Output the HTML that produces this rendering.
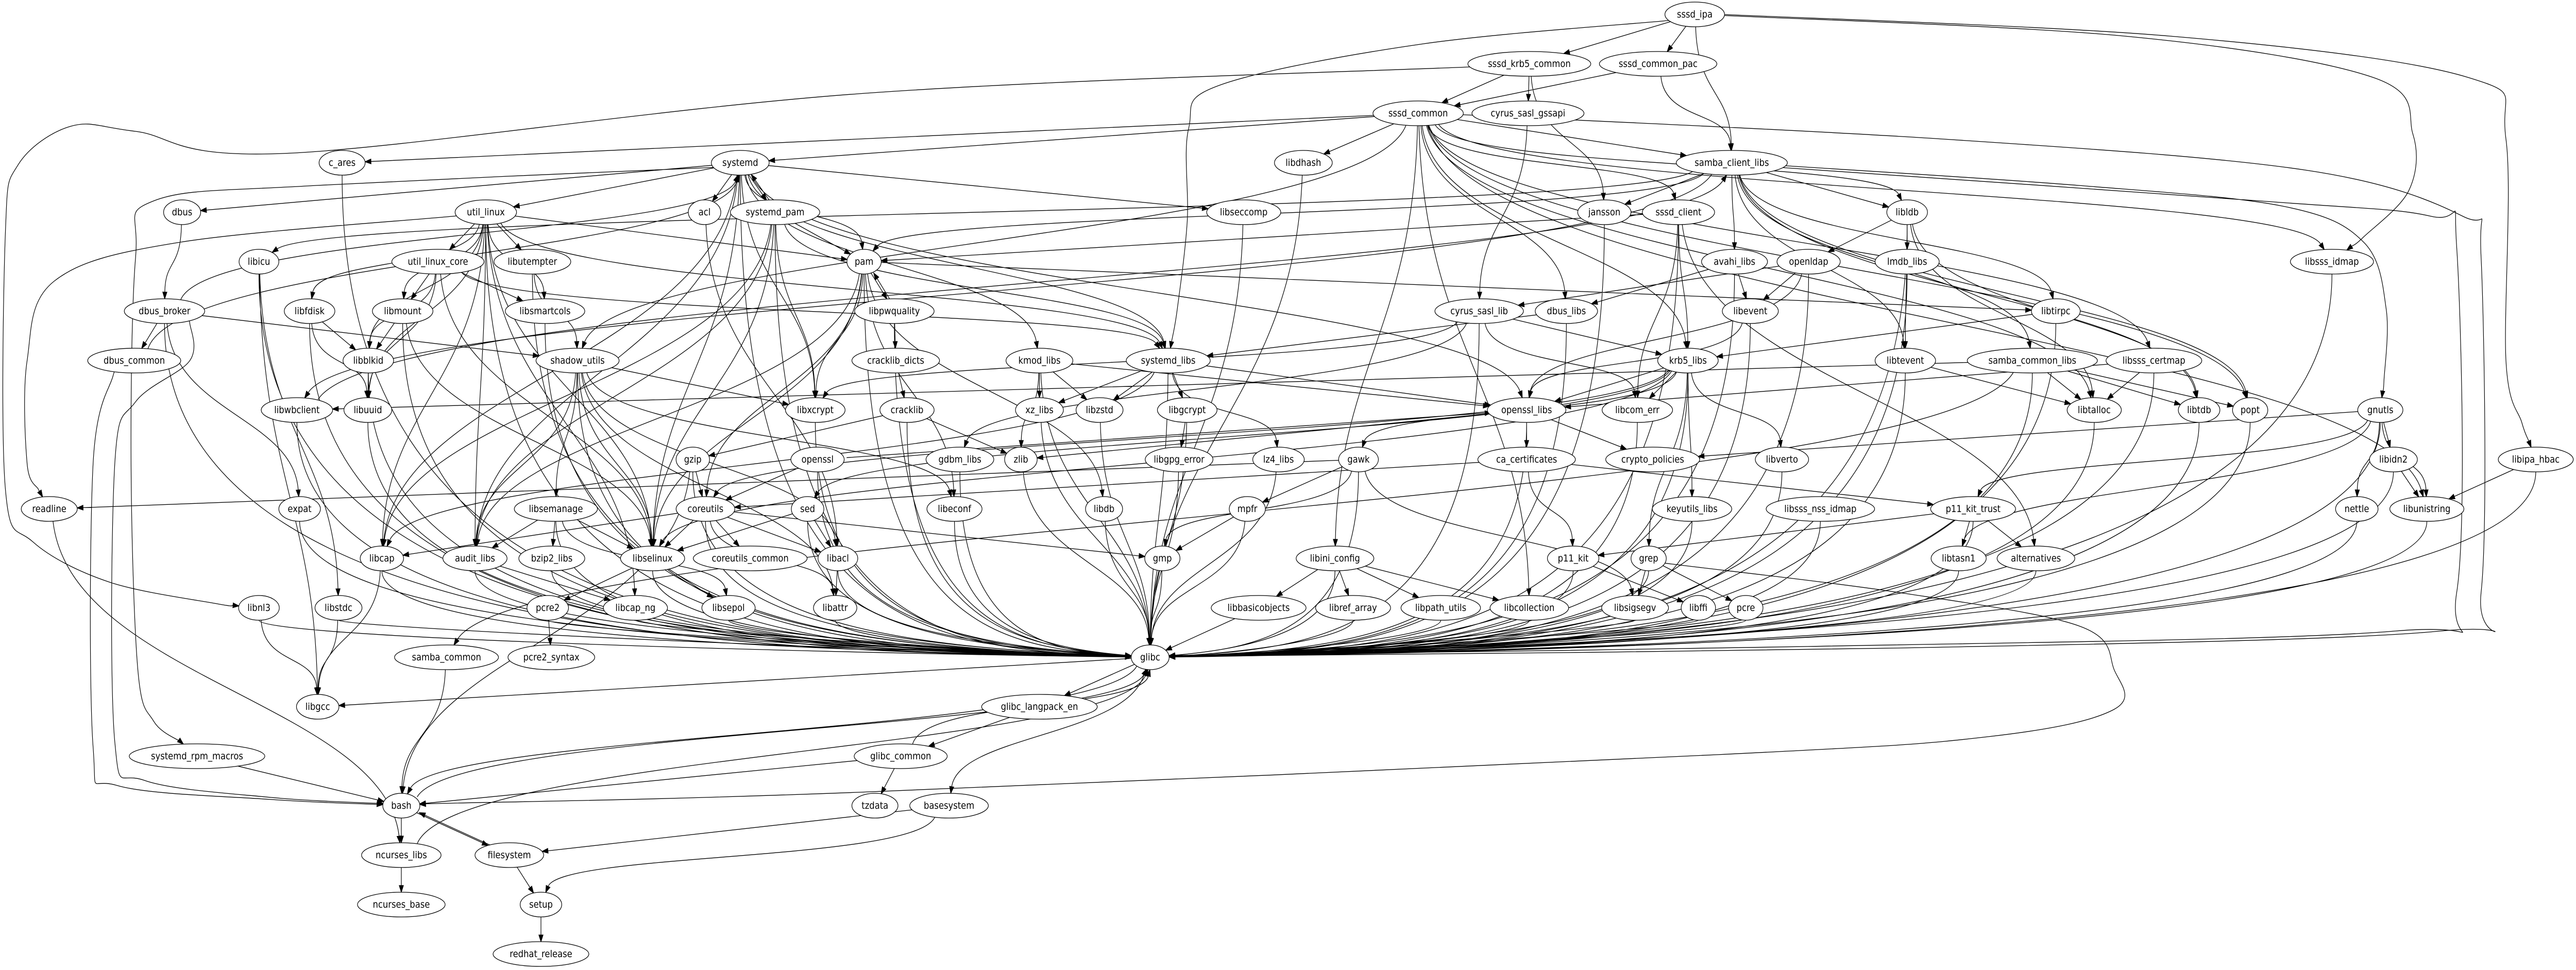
<!DOCTYPE html>
<html><head><meta charset="utf-8">
<style>
html,body{margin:0;padding:0;background:#fff;overflow:hidden;}
svg{display:block;width:100vw;height:1883px}
text{font-family:"DejaVu Sans","Liberation Sans",sans-serif;font-size:18.67px;text-anchor:middle;fill:#000}
ellipse{fill:#fff;stroke:#000;stroke-width:1.33}
</style></head><body>
<svg id="g" xmlns="http://www.w3.org/2000/svg" viewBox="0 0 5700 1883" preserveAspectRatio="none">
<rect width="5700" height="1883" fill="#fff"/>
<path id="ed" fill="none" stroke="#000" stroke-width="1.33" d=""/>
<path id="ar" fill="#000" stroke="#000" stroke-width="1.33" d=""/>
<g id="nodes">
<g id="n_sssd_ipa"><ellipse cx="3750" cy="28" rx="66" ry="24"/><text x="3750" y="34">sssd_ipa</text></g>
<g id="n_sssd_krb5_common"><ellipse cx="3384" cy="124" rx="136" ry="24"/><text x="3384" y="130">sssd_krb5_common</text></g>
<g id="n_sssd_common_pac"><ellipse cx="3669" cy="124" rx="130" ry="24"/><text x="3669" y="130">sssd_common_pac</text></g>
<g id="n_sssd_common"><ellipse cx="3138" cy="220" rx="100" ry="24"/><text x="3138" y="226">sssd_common</text></g>
<g id="n_cyrus_sasl_gssapi"><ellipse cx="3381" cy="220" rx="124" ry="24"/><text x="3381" y="226">cyrus_sasl_gssapi</text></g>
<g id="n_c_ares"><ellipse cx="757" cy="316" rx="51" ry="24"/><text x="757" y="322">c_ares</text></g>
<g id="n_systemd"><ellipse cx="1638" cy="316" rx="64" ry="24"/><text x="1638" y="322">systemd</text></g>
<g id="n_libdhash"><ellipse cx="2884" cy="316" rx="64" ry="24"/><text x="2884" y="322">libdhash</text></g>
<g id="n_samba_client_libs"><ellipse cx="3832" cy="316" rx="123" ry="24"/><text x="3832" y="322">samba_client_libs</text></g>
<g id="n_dbus"><ellipse cx="403" cy="412" rx="41" ry="24"/><text x="403" y="418">dbus</text></g>
<g id="n_util_linux"><ellipse cx="1075" cy="412" rx="68" ry="24"/><text x="1075" y="418">util_linux</text></g>
<g id="n_acl"><ellipse cx="1559" cy="412" rx="36" ry="24"/><text x="1559" y="418">acl</text></g>
<g id="n_systemd_pam"><ellipse cx="1715" cy="412" rx="99" ry="24"/><text x="1715" y="418">systemd_pam</text></g>
<g id="n_libseccomp"><ellipse cx="2752" cy="412" rx="82" ry="24"/><text x="2752" y="418">libseccomp</text></g>
<g id="n_jansson"><ellipse cx="3550" cy="412" rx="59" ry="24"/><text x="3550" y="418">jansson</text></g>
<g id="n_sssd_client"><ellipse cx="3714" cy="412" rx="80" ry="24"/><text x="3714" y="418">sssd_client</text></g>
<g id="n_libldb"><ellipse cx="4220" cy="412" rx="45" ry="24"/><text x="4220" y="418">libldb</text></g>
<g id="n_libicu"><ellipse cx="573" cy="508" rx="44" ry="24"/><text x="573" y="514">libicu</text></g>
<g id="n_util_linux_core"><ellipse cx="969" cy="508" rx="102" ry="24"/><text x="969" y="514">util_linux_core</text></g>
<g id="n_libutempter"><ellipse cx="1178" cy="508" rx="85" ry="24"/><text x="1178" y="514">libutempter</text></g>
<g id="n_pam"><ellipse cx="1912" cy="508" rx="38" ry="24"/><text x="1912" y="514">pam</text></g>
<g id="n_avahi_libs"><ellipse cx="3838" cy="508" rx="73" ry="24"/><text x="3838" y="514">avahi_libs</text></g>
<g id="n_openldap"><ellipse cx="4002" cy="508" rx="70" ry="24"/><text x="4002" y="514">openldap</text></g>
<g id="n_lmdb_libs"><ellipse cx="4220" cy="508" rx="71" ry="24"/><text x="4220" y="514">lmdb_libs</text></g>
<g id="n_libsss_idmap"><ellipse cx="5160" cy="508" rx="92" ry="24"/><text x="5160" y="514">libsss_idmap</text></g>
<g id="n_dbus_broker"><ellipse cx="364" cy="604" rx="89" ry="24"/><text x="364" y="610">dbus_broker</text></g>
<g id="n_libfdisk"><ellipse cx="685" cy="604" rx="56" ry="24"/><text x="685" y="610">libfdisk</text></g>
<g id="n_libmount"><ellipse cx="891" cy="604" rx="67" ry="24"/><text x="891" y="610">libmount</text></g>
<g id="n_libsmartcols"><ellipse cx="1206" cy="604" rx="88" ry="24"/><text x="1206" y="610">libsmartcols</text></g>
<g id="n_libpwquality"><ellipse cx="1979" cy="604" rx="88" ry="24"/><text x="1979" y="610">libpwquality</text></g>
<g id="n_cyrus_sasl_lib"><ellipse cx="3273" cy="604" rx="98" ry="24"/><text x="3273" y="610">cyrus_sasl_lib</text></g>
<g id="n_dbus_libs"><ellipse cx="3466" cy="604" rx="69" ry="24"/><text x="3466" y="610">dbus_libs</text></g>
<g id="n_libevent"><ellipse cx="3873" cy="604" rx="62" ry="24"/><text x="3873" y="610">libevent</text></g>
<g id="n_libtirpc"><ellipse cx="4549" cy="604" rx="54" ry="24"/><text x="4549" y="610">libtirpc</text></g>
<g id="n_dbus_common"><ellipse cx="297" cy="700" rx="103" ry="24"/><text x="297" y="706">dbus_common</text></g>
<g id="n_libblkid"><ellipse cx="815" cy="700" rx="56" ry="24"/><text x="815" y="706">libblkid</text></g>
<g id="n_shadow_utils"><ellipse cx="1278" cy="700" rx="92" ry="24"/><text x="1278" y="706">shadow_utils</text></g>
<g id="n_cracklib_dicts"><ellipse cx="1982" cy="700" rx="97" ry="24"/><text x="1982" y="706">cracklib_dicts</text></g>
<g id="n_kmod_libs"><ellipse cx="2300" cy="700" rx="74" ry="24"/><text x="2300" y="706">kmod_libs</text></g>
<g id="n_systemd_libs"><ellipse cx="2585" cy="700" rx="93" ry="24"/><text x="2585" y="706">systemd_libs</text></g>
<g id="n_krb5_libs"><ellipse cx="3735" cy="700" rx="67" ry="24"/><text x="3735" y="706">krb5_libs</text></g>
<g id="n_libtevent"><ellipse cx="4216" cy="700" rx="67" ry="24"/><text x="4216" y="706">libtevent</text></g>
<g id="n_samba_common_libs"><ellipse cx="4497" cy="700" rx="144" ry="24"/><text x="4497" y="706">samba_common_libs</text></g>
<g id="n_libsss_certmap"><ellipse cx="4766" cy="700" rx="106" ry="24"/><text x="4766" y="706">libsss_certmap</text></g>
<g id="n_libwbclient"><ellipse cx="657" cy="796" rx="79" ry="24"/><text x="657" y="802">libwbclient</text></g>
<g id="n_libuuid"><ellipse cx="814" cy="796" rx="53" ry="24"/><text x="814" y="802">libuuid</text></g>
<g id="n_libxcrypt"><ellipse cx="1804" cy="796" rx="66" ry="24"/><text x="1804" y="802">libxcrypt</text></g>
<g id="n_cracklib"><ellipse cx="2007" cy="796" rx="60" ry="24"/><text x="2007" y="802">cracklib</text></g>
<g id="n_xz_libs"><ellipse cx="2300" cy="796" rx="53" ry="24"/><text x="2300" y="802">xz_libs</text></g>
<g id="n_libzstd"><ellipse cx="2433" cy="796" rx="52" ry="24"/><text x="2433" y="802">libzstd</text></g>
<g id="n_libgcrypt"><ellipse cx="2627" cy="796" rx="66" ry="24"/><text x="2627" y="802">libgcrypt</text></g>
<g id="n_openssl_libs"><ellipse cx="3378" cy="796" rx="87" ry="24"/><text x="3378" y="802">openssl_libs</text></g>
<g id="n_libcom_err"><ellipse cx="3623" cy="796" rx="78" ry="24"/><text x="3623" y="802">libcom_err</text></g>
<g id="n_libtalloc"><ellipse cx="4634" cy="796" rx="60" ry="24"/><text x="4634" y="802">libtalloc</text></g>
<g id="n_libtdb"><ellipse cx="4866" cy="796" rx="46" ry="24"/><text x="4866" y="802">libtdb</text></g>
<g id="n_popt"><ellipse cx="4979" cy="796" rx="39" ry="24"/><text x="4979" y="802">popt</text></g>
<g id="n_gnutls"><ellipse cx="5267" cy="796" rx="50" ry="24"/><text x="5267" y="802">gnutls</text></g>
<g id="n_gzip"><ellipse cx="1533" cy="892" rx="37" ry="24"/><text x="1533" y="898">gzip</text></g>
<g id="n_openssl"><ellipse cx="1809" cy="892" rx="59" ry="24"/><text x="1809" y="898">openssl</text></g>
<g id="n_gdbm_libs"><ellipse cx="2124" cy="892" rx="75" ry="24"/><text x="2124" y="898">gdbm_libs</text></g>
<g id="n_zlib"><ellipse cx="2259" cy="892" rx="36" ry="24"/><text x="2259" y="898">zlib</text></g>
<g id="n_libgpg_error"><ellipse cx="2609" cy="892" rx="75" ry="24"/><text x="2609" y="898">libgpg_error</text></g>
<g id="n_lz4_libs"><ellipse cx="2829" cy="892" rx="57" ry="24"/><text x="2829" y="898">lz4_libs</text></g>
<g id="n_gawk"><ellipse cx="3006" cy="892" rx="44" ry="24"/><text x="3006" y="898">gawk</text></g>
<g id="n_ca_certificates"><ellipse cx="3378" cy="892" rx="108" ry="24"/><text x="3378" y="898">ca_certificates</text></g>
<g id="n_crypto_policies"><ellipse cx="3657" cy="892" rx="104" ry="24"/><text x="3657" y="898">crypto_policies</text></g>
<g id="n_libverto"><ellipse cx="3943" cy="892" rx="59" ry="24"/><text x="3943" y="898">libverto</text></g>
<g id="n_libidn2"><ellipse cx="5296" cy="892" rx="53" ry="24"/><text x="5296" y="898">libidn2</text></g>
<g id="n_libipa_hbac"><ellipse cx="5611" cy="892" rx="83" ry="24"/><text x="5611" y="898">libipa_hbac</text></g>
<g id="n_readline"><ellipse cx="109" cy="988" rx="62" ry="24"/><text x="109" y="994">readline</text></g>
<g id="n_expat"><ellipse cx="663" cy="988" rx="46" ry="24"/><text x="663" y="994">expat</text></g>
<g id="n_libsemanage"><ellipse cx="1230" cy="988" rx="92" ry="24"/><text x="1230" y="994">libsemanage</text></g>
<g id="n_coreutils"><ellipse cx="1561" cy="988" rx="65" ry="24"/><text x="1561" y="994">coreutils</text></g>
<g id="n_sed"><ellipse cx="1787" cy="988" rx="36" ry="24"/><text x="1787" y="994">sed</text></g>
<g id="n_libeconf"><ellipse cx="2112" cy="988" rx="61" ry="24"/><text x="2112" y="994">libeconf</text></g>
<g id="n_libdb"><ellipse cx="2443" cy="988" rx="41" ry="24"/><text x="2443" y="994">libdb</text></g>
<g id="n_mpfr"><ellipse cx="2760" cy="988" rx="40" ry="24"/><text x="2760" y="994">mpfr</text></g>
<g id="n_keyutils_libs"><ellipse cx="3744" cy="988" rx="88" ry="24"/><text x="3744" y="994">keyutils_libs</text></g>
<g id="n_libsss_nss_idmap"><ellipse cx="4028" cy="988" rx="120" ry="24"/><text x="4028" y="994">libsss_nss_idmap</text></g>
<g id="n_p11_kit_trust"><ellipse cx="4366" cy="988" rx="94" ry="24"/><text x="4366" y="994">p11_kit_trust</text></g>
<g id="n_nettle"><ellipse cx="5215" cy="988" rx="47" ry="24"/><text x="5215" y="994">nettle</text></g>
<g id="n_libunistring"><ellipse cx="5370" cy="988" rx="82" ry="24"/><text x="5370" y="994">libunistring</text></g>
<g id="n_libcap"><ellipse cx="845" cy="1084" rx="48" ry="24"/><text x="845" y="1090">libcap</text></g>
<g id="n_audit_libs"><ellipse cx="1051" cy="1084" rx="71" ry="24"/><text x="1051" y="1090">audit_libs</text></g>
<g id="n_bzip2_libs"><ellipse cx="1221" cy="1084" rx="73" ry="24"/><text x="1221" y="1090">bzip2_libs</text></g>
<g id="n_libselinux"><ellipse cx="1444" cy="1084" rx="71" ry="24"/><text x="1444" y="1090">libselinux</text></g>
<g id="n_coreutils_common"><ellipse cx="1660" cy="1084" rx="126" ry="24"/><text x="1660" y="1090">coreutils_common</text></g>
<g id="n_libacl"><ellipse cx="1854" cy="1084" rx="44" ry="24"/><text x="1854" y="1090">libacl</text></g>
<g id="n_gmp"><ellipse cx="2572" cy="1084" rx="39" ry="24"/><text x="2572" y="1090">gmp</text></g>
<g id="n_libini_config"><ellipse cx="2954" cy="1084" rx="86" ry="24"/><text x="2954" y="1090">libini_config</text></g>
<g id="n_p11_kit"><ellipse cx="3481" cy="1084" rx="57" ry="24"/><text x="3481" y="1090">p11_kit</text></g>
<g id="n_grep"><ellipse cx="3648" cy="1084" rx="39" ry="24"/><text x="3648" y="1090">grep</text></g>
<g id="n_libtasn1"><ellipse cx="4334" cy="1084" rx="61" ry="24"/><text x="4334" y="1090">libtasn1</text></g>
<g id="n_alternatives"><ellipse cx="4505" cy="1084" rx="86" ry="24"/><text x="4505" y="1090">alternatives</text></g>
<g id="n_libnl3"><ellipse cx="573" cy="1180" rx="45" ry="24"/><text x="573" y="1186">libnl3</text></g>
<g id="n_libstdc"><ellipse cx="749" cy="1180" rx="52" ry="24"/><text x="749" y="1186">libstdc</text></g>
<g id="n_pcre2"><ellipse cx="1212" cy="1180" rx="46" ry="24"/><text x="1212" y="1186">pcre2</text></g>
<g id="n_libcap_ng"><ellipse cx="1406" cy="1180" rx="71" ry="24"/><text x="1406" y="1186">libcap_ng</text></g>
<g id="n_libsepol"><ellipse cx="1612" cy="1180" rx="59" ry="24"/><text x="1612" y="1186">libsepol</text></g>
<g id="n_libattr"><ellipse cx="1848" cy="1180" rx="48" ry="24"/><text x="1848" y="1186">libattr</text></g>
<g id="n_libbasicobjects"><ellipse cx="2785" cy="1180" rx="105" ry="24"/><text x="2785" y="1186">libbasicobjects</text></g>
<g id="n_libref_array"><ellipse cx="2994" cy="1180" rx="83" ry="24"/><text x="2994" y="1186">libref_array</text></g>
<g id="n_libpath_utils"><ellipse cx="3188" cy="1180" rx="88" ry="24"/><text x="3188" y="1186">libpath_utils</text></g>
<g id="n_libcollection"><ellipse cx="3384" cy="1180" rx="87" ry="24"/><text x="3384" y="1186">libcollection</text></g>
<g id="n_libsigsegv"><ellipse cx="3618" cy="1180" rx="74" ry="24"/><text x="3618" y="1186">libsigsegv</text></g>
<g id="n_libffi"><ellipse cx="3758" cy="1180" rx="38" ry="24"/><text x="3758" y="1186">libffi</text></g>
<g id="n_pcre"><ellipse cx="3863" cy="1180" rx="38" ry="24"/><text x="3863" y="1186">pcre</text></g>
<g id="n_samba_common"><ellipse cx="988" cy="1276" rx="115" ry="24"/><text x="988" y="1282">samba_common</text></g>
<g id="n_pcre2_syntax"><ellipse cx="1220" cy="1276" rx="96" ry="24"/><text x="1220" y="1282">pcre2_syntax</text></g>
<g id="n_glibc"><ellipse cx="2545" cy="1276" rx="42" ry="24"/><text x="2545" y="1282">glibc</text></g>
<g id="n_libgcc"><ellipse cx="703" cy="1372" rx="47" ry="24"/><text x="703" y="1378">libgcc</text></g>
<g id="n_glibc_langpack_en"><ellipse cx="2300" cy="1372" rx="128" ry="24"/><text x="2300" y="1378">glibc_langpack_en</text></g>
<g id="n_systemd_rpm_macros"><ellipse cx="436" cy="1468" rx="150" ry="24"/><text x="436" y="1474">systemd_rpm_macros</text></g>
<g id="n_glibc_common"><ellipse cx="1993" cy="1468" rx="103" ry="24"/><text x="1993" y="1474">glibc_common</text></g>
<g id="n_bash"><ellipse cx="888" cy="1564" rx="41" ry="24"/><text x="888" y="1570">bash</text></g>
<g id="n_tzdata"><ellipse cx="1936" cy="1564" rx="51" ry="24"/><text x="1936" y="1570">tzdata</text></g>
<g id="n_basesystem"><ellipse cx="2100" cy="1564" rx="87" ry="24"/><text x="2100" y="1570">basesystem</text></g>
<g id="n_ncurses_libs"><ellipse cx="888" cy="1660" rx="88" ry="24"/><text x="888" y="1666">ncurses_libs</text></g>
<g id="n_filesystem"><ellipse cx="1127" cy="1660" rx="76" ry="24"/><text x="1127" y="1666">filesystem</text></g>
<g id="n_ncurses_base"><ellipse cx="888" cy="1756" rx="97" ry="24"/><text x="888" y="1762">ncurses_base</text></g>
<g id="n_setup"><ellipse cx="1197" cy="1756" rx="46" ry="24"/><text x="1197" y="1762">setup</text></g>
<g id="n_redhat_release"><ellipse cx="1197" cy="1852" rx="106" ry="24"/><text x="1197" y="1858">redhat_release</text></g>
</g>
</svg>
<script>
(function(){
function P(id){var e=document.querySelector('#n_'+id+' ellipse');return {x:+e.getAttribute('cx'),y:+e.getAttribute('cy'),rx:+e.getAttribute('rx'),ry:+e.getAttribute('ry')};}
var D='',A='';
function f(v){return v.toFixed(1);}
function nrm(x,y){var l=Math.hypot(x,y)||1;return [x/l,y/l];}
function bnd(n,ux,uy){var r=1/Math.sqrt(Math.pow(ux/n.rx,2)+Math.pow(uy/n.ry,2));return [n.x+ux*r,n.y+uy*r];}
function arr(tip,u){var L=13,W=4.6;var bx=tip[0]-u[0]*L,by=tip[1]-u[1]*L;
 A+='M'+f(tip[0])+','+f(tip[1])+'L'+f(bx-u[1]*W)+','+f(by+u[0]*W)+'L'+f(bx+u[1]*W)+','+f(by-u[0]*W)+'Z';return [bx,by];}
function fan(s,t){
 var side=s.x>t.x?1:-1, adx=Math.abs(t.x-s.x);
 var st=[s.x,s.y+s.ry];
 var h=Math.abs(Math.round(s.x*13+s.y*7))%28;
 var c1=[s.x,Math.max(st[1]+5,t.y-40-h)];
 var c2=[t.x+side*Math.min(adx*0.55,900),t.y-10-h*0.5];
 var u=nrm(t.x-c2[0],t.y-c2[1]);
 var tip=bnd(t,-u[0],-u[1]);var bs=arr(tip,u);
 D+='M'+f(st[0])+','+f(st[1])+'C'+f(c1[0])+','+f(c1[1])+' '+f(c2[0])+','+f(c2[1])+' '+f(bs[0])+','+f(bs[1]);
}
function edge(a,b){
 var s=P(a),t=P(b);var dx=t.x-s.x,dy=t.y-s.y;var rk=Math.round(Math.abs(dy)/96);
 if(b==='glibc'&&dy>0&&Math.abs(dx)>350){fan(s,t);return;}
 if(rk===0){var sg0=dx>0?1:-1;var st0=[s.x+sg0*s.rx,s.y];var tip0=[t.x-sg0*t.rx,t.y];var bs0=arr(tip0,[sg0,0]);
  D+='M'+f(st0[0])+','+f(st0[1])+'Q'+f((st0[0]+bs0[0])/2)+','+f(s.y-40)+' '+f(bs0[0])+','+f(bs0[1]);return;}
 var back=dy<0?6:0;
 if(rk===1){var u=nrm(dx,dy);var st=bnd(s,u[0],u[1]);var tip=bnd(t,-u[0],-u[1]);
  st[0]+=back;tip[0]+=back;var bs=arr(tip,u);
  D+='M'+f(st[0])+','+f(st[1])+'L'+f(bs[0])+','+f(bs[1]);return;}
 var sg=dy>0?1:-1;
 var u0=nrm(dx*0.3/rk,96*sg);var st2=bnd(s,u0[0],u0[1]);st2[0]+=back;
 var c1=[st2[0]+dx*0.05,st2[1]+dy*0.45];
 var c2=[t.x-dx*0.05+back,t.y-sg*t.ry-dy*0.4];
 var u2=nrm(t.x+back-c2[0],t.y-c2[1]);
 var tip2=bnd(t,-u2[0],-u2[1]);tip2[0]+=back;var bs2=arr(tip2,u2);
 D+='M'+f(st2[0])+','+f(st2[1])+'C'+f(c1[0])+','+f(c1[1])+' '+f(c2[0])+','+f(c2[1])+' '+f(bs2[0])+','+f(bs2[1]);
}
function route(a,b,pts){
 var s=P(a),t=P(b);
 var u0=nrm(pts[0][0]-s.x,pts[0][1]-s.y);var st=bnd(s,u0[0],u0[1]);
 var last=pts[pts.length-1];var u=nrm(t.x-last[0],t.y-last[1]);var tip=bnd(t,-u[0],-u[1]);var bs=arr(tip,u);
 var Q=[st].concat(pts,[bs]);
 D+='M'+f(Q[0][0])+','+f(Q[0][1]);
 for(var i=0;i<Q.length-1;i++){var p0=Q[Math.max(0,i-1)],p1=Q[i],p2=Q[i+1],p3=Q[Math.min(Q.length-1,i+2)];
  var c1=[p1[0]+(p2[0]-p0[0])/6,p1[1]+(p2[1]-p0[1])/6];var c2=[p2[0]-(p3[0]-p1[0])/6,p2[1]-(p3[1]-p1[1])/6];
  D+='C'+f(c1[0])+','+f(c1[1])+' '+f(c2[0])+','+f(c2[1])+' '+f(p2[0])+','+f(p2[1]);}
}
var E="sssd_ipa>sssd_krb5_common sssd_ipa>sssd_common_pac sssd_ipa>samba_client_libs "+
"sssd_krb5_common>sssd_common sssd_krb5_common>cyrus_sasl_gssapi sssd_krb5_common>jansson "+
"sssd_common_pac>sssd_common sssd_common_pac>samba_client_libs cyrus_sasl_gssapi>cyrus_sasl_lib "+
"sssd_common>c_ares sssd_common>systemd sssd_common>libdhash sssd_common>sssd_client sssd_common>dbus_libs sssd_common>shadow_utils sssd_common>libldb sssd_common>samba_client_libs sssd_common>libsss_certmap sssd_common>popt sssd_common>libtalloc sssd_common>libini_config sssd_common>libcollection sssd_common>libunistring sssd_common>libsss_idmap sssd_common>krb5_libs "+
"samba_client_libs>jansson samba_client_libs>pam samba_client_libs>libldb samba_client_libs>avahi_libs samba_client_libs>libtirpc samba_client_libs>samba_common_libs samba_client_libs>libwbclient samba_client_libs>libicu samba_client_libs>libtevent samba_client_libs>libtdb samba_client_libs>popt "+
"systemd>dbus systemd>util_linux systemd>acl systemd>systemd_pam systemd>libseccomp systemd>kmod_libs systemd>systemd_libs systemd>openssl_libs systemd>libcap systemd>audit_libs systemd>pam systemd>libxcrypt systemd>libselinux "+
"dbus>dbus_broker dbus_broker>dbus_common dbus_broker>systemd dbus_broker>shadow_utils dbus_broker>expat dbus_common>systemd "+
"util_linux>util_linux_core util_linux>libutempter util_linux>libfdisk util_linux>libmount util_linux>libblkid util_linux>libsmartcols util_linux>pam util_linux>systemd_libs util_linux>libuuid util_linux>libcap_ng util_linux>libselinux util_linux>audit_libs util_linux>libcap "+
"util_linux_core>libmount util_linux_core>libsmartcols util_linux_core>libblkid util_linux_core>libuuid util_linux_core>systemd_libs util_linux_core>libselinux acl>libacl "+
"systemd_pam>systemd systemd_pam>pam systemd_pam>systemd_libs systemd_pam>libxcrypt systemd_pam>libcap systemd_pam>libselinux systemd_pam>audit_libs "+
"libicu>libstdc libicu>libgcc libutempter>shadow_utils "+
"pam>libpwquality pam>libxcrypt pam>audit_libs pam>libselinux pam>libeconf pam>libdb pam>libtirpc pam>coreutils libpwquality>pam libpwquality>cracklib_dicts "+
"libfdisk>libblkid libfdisk>libuuid libmount>libblkid libmount>libselinux "+
"cyrus_sasl_lib>libxcrypt cyrus_sasl_lib>krb5_libs cyrus_sasl_lib>libcom_err cyrus_sasl_lib>gdbm_libs dbus_libs>systemd_libs avahi_libs>libevent avahi_libs>dbus_libs "+
"openldap>libevent openldap>cyrus_sasl_lib openldap>openssl_libs libldb>openldap libldb>lmdb_libs libldb>libtevent libldb>libtalloc libldb>libtdb "+
"sssd_client>pam sssd_client>krb5_libs sssd_client>libcom_err sssd_client>alternatives libevent>openssl_libs libtirpc>krb5_libs libblkid>libuuid "+
"shadow_utils>libxcrypt shadow_utils>libsemanage shadow_utils>audit_libs shadow_utils>libselinux shadow_utils>libacl shadow_utils>libattr shadow_utils>libeconf cracklib_dicts>cracklib "+
"kmod_libs>xz_libs kmod_libs>libzstd kmod_libs>zlib kmod_libs>openssl_libs systemd_libs>xz_libs systemd_libs>libzstd systemd_libs>libgcrypt systemd_libs>lz4_libs systemd_libs>openssl_libs systemd_libs>libcap "+
"krb5_libs>openssl_libs krb5_libs>libcom_err krb5_libs>keyutils_libs krb5_libs>libverto krb5_libs>gawk krb5_libs>grep krb5_libs>sed krb5_libs>coreutils krb5_libs>libselinux libtevent>libtalloc "+
"samba_common_libs>libtalloc samba_common_libs>libtdb samba_common_libs>popt samba_common_libs>libwbclient samba_common_libs>samba_common libsss_certmap>libtalloc libsss_certmap>openssl_libs libwbclient>samba_client_libs "+
"cracklib>zlib cracklib>gzip libgcrypt>libgpg_error openssl_libs>ca_certificates openssl_libs>crypto_policies openssl_libs>zlib "+
"gnutls>libidn2 gnutls>libunistring gnutls>nettle gnutls>crypto_policies gnutls>p11_kit_trust gnutls>libtasn1 gzip>coreutils gzip>bash openssl>openssl_libs openssl>coreutils "+
"gawk>mpfr gawk>libsigsegv gawk>readline gawk>gmp ca_certificates>p11_kit_trust ca_certificates>p11_kit ca_certificates>coreutils libidn2>libunistring libipa_hbac>libunistring readline>ncurses_libs "+
"libsemanage>audit_libs libsemanage>bzip2_libs libsemanage>libselinux libsemanage>libsepol coreutils>libcap coreutils>libselinux coreutils>coreutils_common coreutils>libacl coreutils>libattr coreutils>gmp "+
"sed>libselinux sed>libacl mpfr>gmp p11_kit_trust>p11_kit p11_kit_trust>libtasn1 p11_kit_trust>alternatives libcap>libgcc audit_libs>libcap_ng libselinux>pcre2 libselinux>libsepol libacl>libattr "+
"libini_config>libbasicobjects libini_config>libref_array libini_config>libpath_utils libini_config>libcollection p11_kit>libffi grep>libsigsegv grep>pcre libnl3>libgcc libstdc>libgcc pcre2>pcre2_syntax "+
"samba_common>bash glibc>libgcc glibc>glibc_langpack_en glibc>basesystem glibc>bash glibc_langpack_en>glibc_common glibc_common>glibc glibc_common>tzdata glibc_common>bash systemd_rpm_macros>bash "+
"bash>ncurses_libs bash>filesystem bash>glibc ncurses_libs>ncurses_base ncurses_libs>glibc filesystem>bash filesystem>setup basesystem>filesystem basesystem>setup setup>redhat_release";
var G="c_ares libdhash libseccomp jansson sssd_client libsss_idmap lmdb_libs libsmartcols libblkid libuuid libxcrypt libwbclient cracklib xz_libs libzstd libgcrypt openssl_libs libcom_err libtalloc libtdb popt gnutls gdbm_libs zlib libgpg_error lz4_libs gawk libverto libidn2 libipa_hbac expat libeconf libdb mpfr keyutils_libs libsss_nss_idmap nettle libunistring libcap audit_libs bzip2_libs libselinux libacl gmp libini_config p11_kit grep libtasn1 alternatives libnl3 libstdc pcre2 libcap_ng libsepol libattr libbasicobjects libref_array libpath_utils libcollection libsigsegv libffi pcre systemd util_linux pam shadow_utils dbus_broker libfdisk libmount libutempter libicu coreutils sed libsemanage samba_common_libs libsss_certmap libldb libtevent krb5_libs cyrus_sasl_lib dbus_libs avahi_libs openldap libevent libtirpc kmod_libs systemd_libs openssl gzip libpwquality systemd_pam p11_kit_trust";
E.split(/\s+/).forEach(function(p){if(!p)return;var q=p.split('>');edge(q[0],q[1]);});
G.split(/\s+/).forEach(function(p){if(p)edge(p,'glibc');});
route('sssd_ipa','systemd_libs',[[3690,40],[3150,85],[2700,165],[2630,250],[2627,430],[2605,600]]);
route('sssd_ipa','libsss_idmap',[[3812,30],[4700,70],[5250,150],[5339,260],[5330,370],[5230,460]]);
route('sssd_ipa','libipa_hbac',[[3812,28],[4800,70],[5460,150],[5545,270],[5545,700],[5580,820]]);
route('sssd_krb5_common','libnl3',[[3250,130],[1900,182],[650,297],[300,255],[157,245],[40,320],[12,450],[12,950],[73,1052],[242,1130],[480,1172]]);
route('grep','bash',[[3700,1095],[4200,1150],[4600,1215],[4678,1300],[4678,1377],[4400,1430],[3800,1465],[1900,1538],[960,1560]]);
route('samba_client_libs','gnutls',[[3955,322],[4600,360],[5050,400],[5230,470],[5280,600],[5275,740]]);
route('samba_client_libs','glibc',[[3955,326],[5000,390],[5380,420],[5436,480],[5436,1150],[5300,1225],[4000,1255],[2620,1272]]);
route('sssd_common','glibc',[[3220,222],[4300,270],[5100,330],[5450,420],[5490,500],[5490,1150],[5400,1225],[4200,1258],[2620,1274]]);
route('systemd','systemd_rpm_macros',[[1580,325],[700,360],[340,390],[300,500],[290,900],[305,1300],[340,1400],[400,1440]]);
route('dbus_common','bash',[[250,730],[206,900],[206,1450],[260,1525],[600,1552],[850,1562]]);
route('dbus_broker','bash',[[420,628],[420,700],[300,780],[254,900],[254,1440],[320,1515],[600,1548],[850,1560]]);
route('util_linux','readline',[[1000,420],[400,470],[121,545],[60,700],[60,900],[85,950]]);
document.getElementById('ed').setAttribute('d',D);
document.getElementById('ar').setAttribute('d',A);
})();
</script>
</body></html>
